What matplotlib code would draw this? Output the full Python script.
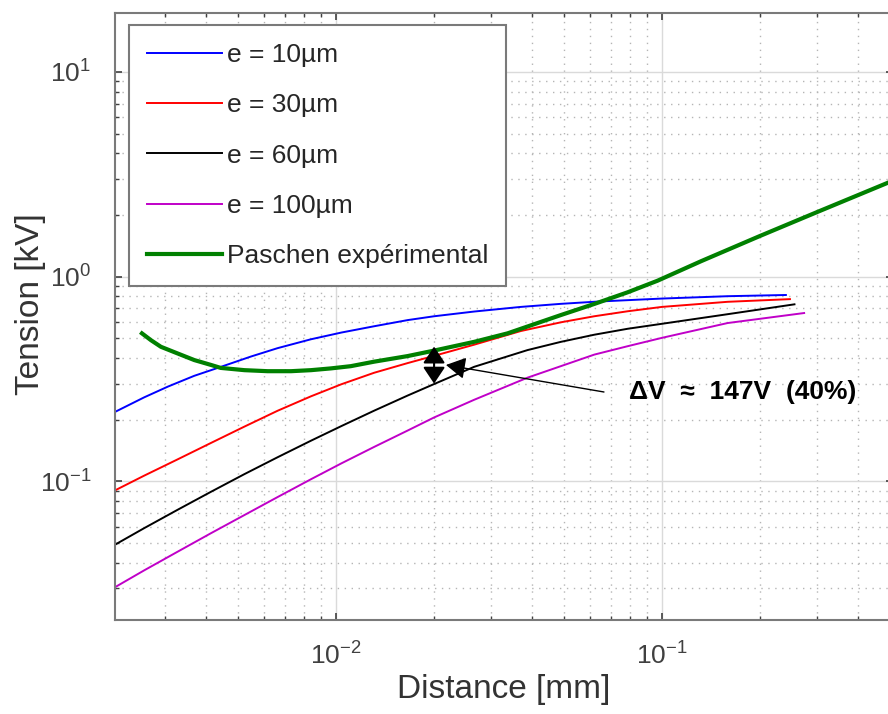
import numpy as np
import matplotlib
matplotlib.use("Agg")
import matplotlib.pyplot as plt

plt.rcParams['font.family'] = ['Liberation Sans', 'DejaVu Sans']

# curves (distance in mm, tension in kV)
x_10 = [0.00211, 0.00258, 0.00305, 0.003676, 0.00443, 0.00549, 0.00662, 0.00838, 0.0104,
        0.0131, 0.0166, 0.02, 0.02656, 0.0369, 0.049, 0.0635, 0.1, 0.159, 0.24]
v_10 = [0.219, 0.257, 0.290, 0.3275, 0.362, 0.407, 0.447, 0.494, 0.533,
        0.572, 0.613, 0.640, 0.675, 0.711, 0.736, 0.755, 0.781, 0.802, 0.813]

x_30 = [0.00211, 0.00258, 0.00327, 0.00414, 0.00524, 0.00662, 0.00838, 0.0104, 0.0131,
        0.0166, 0.02, 0.02656, 0.0369, 0.049, 0.062, 0.0785, 0.1, 0.159, 0.247]
v_30 = [0.0906, 0.1065, 0.128, 0.154, 0.185, 0.221, 0.260, 0.298, 0.339,
        0.378, 0.410, 0.465, 0.542, 0.598, 0.640, 0.677, 0.711, 0.753, 0.776]

x_60 = [0.00211, 0.00258, 0.00327, 0.00414, 0.00524, 0.00662, 0.00838, 0.0104, 0.0131,
        0.0166, 0.02, 0.02656, 0.0387, 0.049, 0.062, 0.0785, 0.1, 0.159, 0.255]
v_60 = [0.0492, 0.0590, 0.0726, 0.0889, 0.1084, 0.131, 0.1578, 0.1862, 0.2213,
        0.2624, 0.2985, 0.3625, 0.4375, 0.480, 0.520, 0.556, 0.588, 0.655, 0.732]

x_100 = [0.00211, 0.00258, 0.00327, 0.00414, 0.00524, 0.00662, 0.00838, 0.0104, 0.0131,
         0.0166, 0.02, 0.02656, 0.0387, 0.062, 0.0785, 0.1, 0.159, 0.273]
v_100 = [0.0305, 0.0367, 0.0453, 0.0558, 0.0684, 0.0837, 0.1023, 0.1224, 0.1472,
         0.177, 0.205, 0.2502, 0.3208, 0.4157, 0.457, 0.502, 0.593, 0.6637]

x_pas = [0.00254, 0.002707, 0.002904, 0.00327, 0.003676, 0.00414, 0.00443, 0.00524,
         0.00617, 0.00728, 0.00838, 0.00965, 0.0111, 0.0131, 0.0166, 0.02, 0.02656,
         0.0336, 0.049, 0.062, 0.0785, 0.097, 0.132, 0.2, 0.3, 0.5]
v_pas = [0.528, 0.489, 0.454, 0.421, 0.391, 0.370, 0.358, 0.349,
         0.345, 0.345, 0.349, 0.356, 0.365, 0.384, 0.409, 0.435, 0.480,
         0.528, 0.649, 0.735, 0.838, 0.955, 1.19, 1.58, 2.07, 2.90]

labels = ['e = 10µm', 'e = 30µm', 'e = 60µm', 'e = 100µm', 'Paschen expérimental']

# delta V marker
dv_x = 0.02
dv_top = 0.455
dv_bot = 0.300
dv_text = 'ΔV  ≈  147V  (40%)'

fig = plt.figure(figsize=(8.88, 7.14), dpi=100)
ax = fig.add_axes([115 / 888, 94 / 714, 777.6 / 888, 607 / 714])

ax.plot(x_10, v_10, color='#0000ff', lw=1.4, label=labels[0])
ax.plot(x_30, v_30, color='#ff0000', lw=1.4, label=labels[1])
ax.plot(x_60, v_60, color='black', lw=1.4, label=labels[2])
ax.plot(x_100, v_100, color='#c000c8', lw=1.4, label=labels[3])
ax.plot(x_pas, v_pas, color='#008000', lw=3, label=labels[4])

ax.set_xscale('log')
ax.set_yscale('log')
ax.set_xlim(0.0021, 0.51)
ax.set_ylim(0.021, 19.4)

ax.grid(which='major', color='#dadada', lw=1, ls='-')
ax.grid(which='minor', color='#b5b5b5', lw=1, ls=(0, (1, 4)))
ax.set_axisbelow(True)

for s in ax.spines.values():
    s.set_color('#7a7a7a')
    s.set_linewidth(1.5)

ax.tick_params(which='both', direction='in', top=True, right=True,
               colors='#404040', labelsize=19)
ax.tick_params(which='major', length=5, width=1.2)
ax.tick_params(which='minor', length=3, width=1)
ax.tick_params(axis='x', pad=16)
ax.tick_params(axis='y', pad=17)

ax.set_xlabel('Distance [mm]', fontsize=24, color='#333333')
ax.set_ylabel('Tension [kV]', fontsize=24, color='#333333')
ax.xaxis.set_label_coords(0.5, -0.115)
ax.yaxis.set_label_coords(-0.109, 0.52)
ax.xaxis.label.set_va('center')
ax.yaxis.label.set_va('center')

leg = ax.legend(loc='upper left', bbox_to_anchor=(129 / 888, 1 - 25 / 714),
                bbox_transform=fig.transFigure, borderaxespad=0,
                fontsize=19, handlelength=2.85, handletextpad=0.18,
                labelspacing=1.0, borderpad=0.68, fancybox=False,
                framealpha=1, edgecolor='#7a7a7a')
leg.get_frame().set_linewidth(1.5)
for t in leg.get_texts():
    t.set_color('#262626')

head = '<|-|>,head_length=0.42,head_width=0.28'
ax.annotate('', xy=(dv_x, dv_top), xytext=(dv_x, dv_bot),
            arrowprops=dict(arrowstyle=head, color='black', lw=1.5,
                            mutation_scale=24, shrinkA=0, shrinkB=0))
ax.annotate('', xy=(0.02175, 0.370), xytext=(0.0664, 0.273),
            arrowprops=dict(arrowstyle='-|>,head_length=0.5,head_width=0.28',
                            color='black', lw=1, mutation_scale=24,
                            shrinkA=0, shrinkB=0))
ax.text(0.0793, 0.273, dv_text, fontsize=19, fontweight='bold',
        ha='left', va='center', color='black')

fig.savefig('out.png', dpi=100)
